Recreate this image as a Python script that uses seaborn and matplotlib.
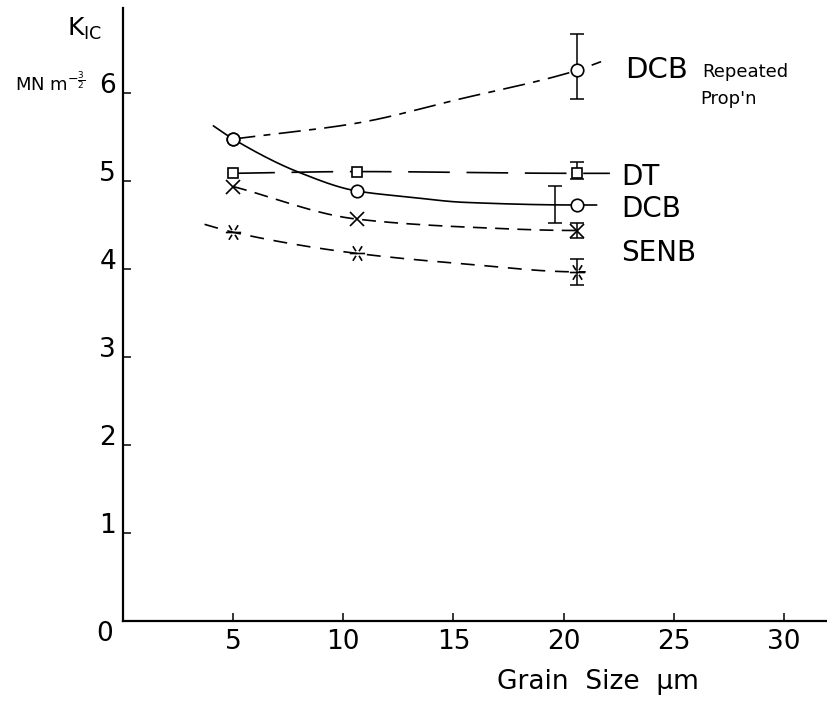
import numpy as np
import matplotlib
matplotlib.use("Agg")
from matplotlib import pyplot as plt
from matplotlib.path import Path
from matplotlib.transforms import ScaledTranslation
import seaborn as sns

# measured points, grain size in um, K_IC in MN m^-3/2
rep_x = [5.0, 20.6]
rep_k = [5.48, 6.26]
grain = [5.0, 10.6, 20.6]
dt_k = [5.09, 5.11, 5.09]
dcb_k = [5.48, 4.89, 4.73]
cross_k = [4.94, 4.57, 4.44]
senb_k = [4.42, 4.18, 3.97]

# hand drawn curves
rep_line_x = [5.0, 10.6, 15.2, 20.6, 21.7]
rep_line_y = [5.48, 5.66, 5.93, 6.26, 6.36]
dt_line_x = [5.0, 10.6, 20.6, 22.1]
dt_line_y = [5.09, 5.11, 5.09, 5.09]
dcb_line_x = [4.1, 5.0, 8.0, 10.6, 13.0, 15.5, 20.6, 21.5]
dcb_line_y = [5.63, 5.48, 5.10, 4.89, 4.82, 4.76, 4.73, 4.73]
cross_line_x = [5.0, 10.6, 15.5, 20.6, 20.9]
cross_line_y = [4.94, 4.57, 4.48, 4.44, 4.44]
senb_line_x = [3.7, 5.0, 10.6, 15.5, 20.6, 21.0]
senb_line_y = [4.51, 4.42, 4.18, 4.06, 3.97, 3.97]

# scatter bands at the largest grain size
err_x = [20.6, 20.6, 19.6, 20.6, 20.6]
err_lo = [5.93, 5.02, 4.53, 4.36, 3.82]
err_hi = [6.68, 5.22, 4.95, 4.53, 4.12]

x_ticks = [5, 10, 15, 20, 25, 30]
y_ticks = [1, 2, 3, 4, 5, 6]


def pchip(x, y, xs):
    """monotone cubic through the read points"""
    x = np.asarray(x, float)
    y = np.asarray(y, float)
    h = np.diff(x)
    d = np.diff(y) / h
    m = np.zeros_like(y)
    m[0], m[-1] = d[0], d[-1]
    for k in range(1, len(x) - 1):
        if d[k - 1] * d[k] > 0:
            w1 = 2 * h[k] + h[k - 1]
            w2 = h[k] + 2 * h[k - 1]
            m[k] = (w1 + w2) / (w1 / d[k - 1] + w2 / d[k])
    i = np.clip(np.searchsorted(x, xs) - 1, 0, len(h) - 1)
    t = (xs - x[i]) / h[i]
    h00 = 2 * t**3 - 3 * t**2 + 1
    h10 = t**3 - 2 * t**2 + t
    h01 = -2 * t**3 + 3 * t**2
    h11 = t**3 - t**2
    return h00 * y[i] + h10 * h[i] * m[i] + h01 * y[i + 1] + h11 * h[i] * m[i + 1]


# split asterisk marker used for SENB
senb_marker = Path(
    [(-1, 0), (1, 0),
     (-0.6, 0.95), (-0.2, 0.3), (0.6, 0.95), (0.2, 0.3),
     (-0.6, -0.95), (-0.2, -0.3), (0.6, -0.95), (0.2, -0.3)],
    [Path.MOVETO, Path.LINETO] * 5)

sns.set_style("ticks")
plt.rcParams["font.family"] = ["DejaVu Sans"]
plt.rcParams["lines.scale_dashes"] = False
plt.rcParams["text.color"] = "black"
plt.rcParams["xtick.color"] = "black"
plt.rcParams["ytick.color"] = "black"

fig = plt.figure(figsize=(8.28, 7.08), dpi=100)
ax = fig.add_axes([0.1486, 0.1229, 0.8514, 0.8658])

lw = 1.2
curves = [
    (rep_line_x, rep_line_y, (0, (16, 6, 5, 6))),
    (dt_line_x, dt_line_y, (0, (30, 12))),
    (dcb_line_x, dcb_line_y, "-"),
    (cross_line_x, cross_line_y, (0, (10, 6))),
    (senb_line_x, senb_line_y, (0, (10, 7))),
]
for cx, cy, ls in curves:
    xs = np.linspace(cx[0], cx[-1], 200)
    sns.lineplot(x=xs, y=pchip(cx, cy, xs), ax=ax, color="black", lw=lw,
                 linestyle=ls, sort=False, estimator=None)

ax.errorbar(err_x, (np.array(err_lo) + np.array(err_hi)) / 2,
            yerr=(np.array(err_hi) - np.array(err_lo)) / 2,
            fmt="none", ecolor="black", elinewidth=1.1, capsize=5, capthick=1.1)

mk = dict(ax=ax, color="black", linestyle="none", markeredgecolor="black",
          markerfacecolor="white", markeredgewidth=1.2, estimator=None)
sns.lineplot(x=rep_x, y=rep_k, marker="o", markersize=9, **mk)
sns.lineplot(x=grain, y=dcb_k, marker="o", markersize=9, **mk)
sns.lineplot(x=grain, y=dt_k, marker="s", markersize=7.5, **mk)
sns.lineplot(x=grain, y=cross_k, marker="x", markersize=10, **mk)
sns.lineplot(x=grain, y=senb_k, marker=senb_marker, markersize=11, **mk)

ax.set_xlim(0, 32)
ax.set_ylim(0, 6.97)
ax.set_xticks(x_ticks)
ax.set_yticks(y_ticks)
ax.tick_params(direction="in", length=6, width=1.1, labelsize=19,
               colors="black", labelcolor="black")
ax.tick_params(axis="x", pad=6)
ax.tick_params(axis="y", pad=5)
for lab in ax.get_yticklabels():
    lab.set_transform(lab.get_transform() + ScaledTranslation(0, 0.1, fig.dpi_scale_trans))
for side in ["top", "right"]:
    ax.spines[side].set_visible(False)
for side in ["left", "bottom"]:
    ax.spines[side].set_linewidth(1.6)
    ax.spines[side].set_color("black")
ax.set_xlabel("")
ax.set_ylabel("")

# curve labels
ax.text(22.8, 6.26, "DCB", fontsize=21, va="center")
ax.text(26.3, 6.24, "Repeated", fontsize=13, va="center")
ax.text(26.2, 5.94, "Prop'n", fontsize=13, va="center")
ax.text(22.6, 5.05, "DT", fontsize=20, va="center")
ax.text(22.6, 4.69, "DCB", fontsize=20, va="center")
ax.text(22.6, 4.18, "SENB", fontsize=20, va="center")

fig.text(67 / 828, 1 - 36 / 708, r"K$_{\mathrm{IC}}$", fontsize=18, va="baseline")
fig.text(15 / 828, 1 - 90 / 708, r"MN m$^{-\frac{3}{2}}$", fontsize=13, va="baseline")
fig.text(105 / 828, 1 - 634 / 708, "0", fontsize=19, ha="center", va="center")
fig.text(598 / 828, 1 - 682 / 708, "Grain  Size  μm", fontsize=19, ha="center", va="center")

fig.savefig("out.png", dpi=100)
